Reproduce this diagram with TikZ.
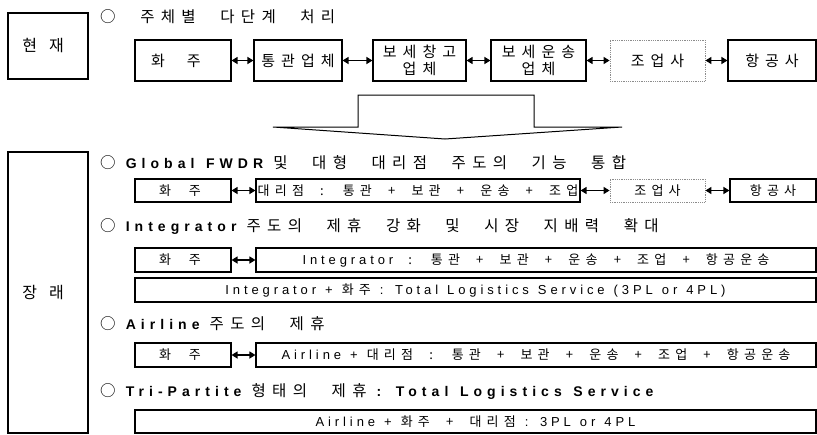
\documentclass[tikz,border=0pt]{standalone}
\usepackage{fontspec}
\setmainfont{Liberation Sans}[WordSpace=2.5]
\newfontfamily\krf{Noto Sans CJK KR}[LetterSpace=40,WordSpace=2.0]
\newfontfamily\krh{Noto Sans CJK KR}[LetterSpace=41,WordSpace=2.5]
\newfontfamily\latr{Liberation Sans}[LetterSpace=30,WordSpace=1.2]
\newfontfamily\latbfam{Liberation Sans}[LetterSpace=36,WordSpace=1.3]
\newcommand\K[1]{{\krf #1}}
\newcommand\KH[1]{{\krh\fontsize{15.5}{18}\selectfont #1}}
\newcommand\LR[1]{{\latr #1}}
\newcommand\LB[1]{{\latbfam\bfseries\fontsize{14}{17}\selectfont #1}}
\usetikzlibrary{arrows.meta}
\tikzset{
  box/.style={draw=black, line width=1.1pt, inner sep=0pt, align=center},
  dotbox/.style={draw=black!45, densely dotted, line width=0.8pt, inner sep=0pt, align=center},
  rowA/.style={font=\fontsize{15}{19}\selectfont, minimum height=41pt},
  rowB/.style={font=\fontsize{13}{15}\selectfont, minimum height=23pt},
  head/.style={anchor=west, inner sep=0pt, font=\fontsize{14.5}{17}\selectfont},
  side/.style={box, font=\fontsize{16}{19}\selectfont},
  dbl/.style={{Triangle[length=6pt,width=7pt]}-{Triangle[length=6pt,width=7pt]}, line width=1.3pt},
  bigarrow/.style={draw=black, line width=1pt, line join=miter}
}
\begin{document}
\begin{tikzpicture}[x=1pt,y=-1pt]
\useasboundingbox (0,0) rectangle (817,434);
% side boxes
\node[side, minimum width=80pt, minimum height=66pt] (now) at (48,46) {\K{현\hspace{12pt}재}\hspace{10pt}};
\node[side, minimum width=80pt, minimum height=281pt] (future) at (48,292.5) {\K{장\hspace{12pt}래}\hspace{10pt}};
% heading 1
\node[head] (h1) at (100,17) {\KH{○ 주체별 다단계 처리}};
% row 1
\node[box,rowA, minimum width=96pt] (hz1) at (183,60.5) {\K{화\hspace{22pt}주}\hspace{14pt}};
\node[box,rowA, minimum width=88pt] (tg1) at (298,60.5) {\K{통관업체}};
\node[box,rowA, minimum width=93pt, font=\fontsize{15}{17}\selectfont] (bc1) at (419.5,60.5) {\K{보세창고}\\\K{업체}};
\node[box,rowA, minimum width=95pt, font=\fontsize{15}{17}\selectfont] (bu1) at (538.5,60.5) {\K{보세운송}\\\K{업체}};
\node[dotbox,rowA, minimum width=95pt] (jo1) at (657.5,60.5) {\K{조업사}};
\node[box,rowA, minimum width=88pt] (hg1) at (772,60.5) {\K{항공사}};
\draw[dbl] (hz1) -- (tg1);
\draw[dbl] (tg1) -- (bc1);
\draw[dbl] (bc1) -- (bu1);
\draw[dbl] (bu1) -- (jo1);
\draw[dbl] (jo1) -- (hg1);
% big arrow
\draw[bigarrow] (273,127) -- (358,127) -- (358,95) -- (534,95) -- (534,127) -- (622,127) -- (445,139) -- cycle;
% heading 2
\node[head] (h2) at (100,163) {\KH{○} \LB{Global FWDR} \KH{및 대형 대리점 주도의 기능 통합}};
\node[box,rowB, minimum width=96pt] (hz2) at (183,190.5) {\K{화\hspace{18pt}주}\hspace{6pt}};
\node[box,rowB, minimum width=324pt] (dr2) at (418,190.5) {\K{대리점 : 통관 + 보관 + 운송 + 조업}};
\node[dotbox,rowB, minimum width=95pt] (jo2) at (657.5,190.5) {\K{조업사}};
\node[box,rowB, minimum width=86pt] (hg2) at (773,190.5) {\K{항공사}};
\draw[dbl] (hz2) -- (dr2);
\draw[dbl] (dr2) -- (jo2);
\draw[dbl] (jo2) -- (hg2);
% heading 3
\node[head] (h3) at (100,227) {\KH{○} \LB{Integrator} \KH{주도의 제휴 강화 및 시장 지배력 확대}};
\node[box,rowB, minimum width=96pt, minimum height=24pt] (hz3) at (183,260) {\K{화\hspace{18pt}주}\hspace{6pt}};
\node[box,rowB, minimum width=560pt, minimum height=24pt] (ig3) at (536,260) {\LR{Integrator}\hspace{6pt} \K{: 통관 + 보관 + 운송 + 조업 + 항공운송}};
\draw[dbl] (hz3) -- (ig3);
\node[box,rowB, minimum width=681pt, minimum height=24pt] (tl4) at (475.5,290) {\LR{Integrator +} \K{화주} \LR{: Total Logistics Service (3PL or 4PL)}};
% heading 4
\node[head] (h4) at (100,324) {\KH{○} \LB{Airline} \KH{주도의 제휴}};
\node[box,rowB, minimum width=96pt, minimum height=24pt] (hz5) at (183,355) {\K{화\hspace{18pt}주}\hspace{6pt}};
\node[box,rowB, minimum width=560pt, minimum height=24pt] (al5) at (536,355) {\LR{Airline +} \K{대리점 : 통관 + 보관 + 운송 + 조업 + 항공운송}};
\draw[dbl] (hz5) -- (al5);
% heading 5
\node[head] (h5) at (100,392) {\KH{○} \LB{Tri-Partite} \KH{형태의 제휴} \LB{: Total Logistics Service}};
\node[box,rowB, minimum width=681pt] (ap6) at (475.5,421.5) {\LR{Airline +} \K{화주 + 대리점} \LR{: 3PL or 4PL}};
\end{tikzpicture}
\end{document}
